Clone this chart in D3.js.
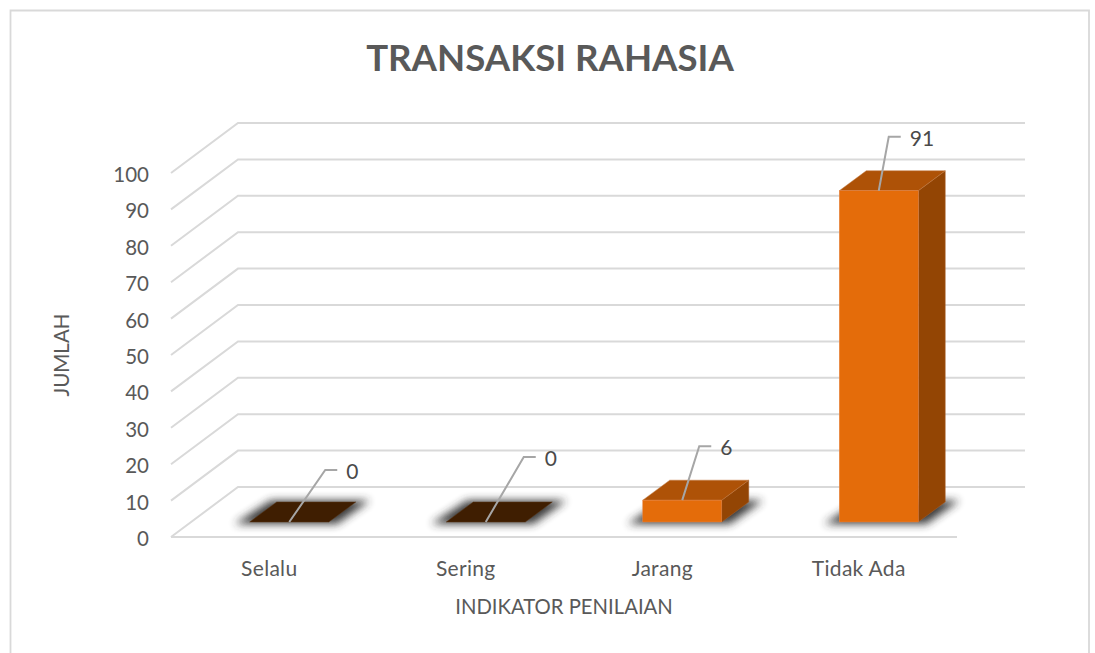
<!DOCTYPE html>
<html><head><meta charset="utf-8">
<script src="https://cdn.jsdelivr.net/npm/d3@7"></script>
<style>html,body{margin:0;padding:0;background:#fff}svg{display:block}text{font-family:Lato,"Open Sans",sans-serif}</style>
</head><body><svg id="c" width="1095" height="653"></svg>
<script>
const categories = ["Selalu","Sering","Jarang","Tidak Ada"];
const values = [0,0,6,91];
const yTicks = [0,10,20,30,40,50,60,70,80,90,100];
const titleText = "TRANSAKSI RAHASIA";
const xTitle = "INDIKATOR PENILAIAN";
const yTitle = "JUMLAH";

const leaderDX = [36,38,17,10], leaderDY = [-52,-65,-54,-54];
const W=1095,H=653;
const floorDX=67, floorDY=50, depthDX=27, depthDY=20, insetDX=20, insetDY=15;
const svg=d3.select("#c");
const defs=svg.append("defs");
defs.append("filter").attr("id","sh").attr("x","-30%").attr("y","-60%").attr("width","160%").attr("height","220%")
  .append("feGaussianBlur").attr("stdDeviation",4);

svg.append("path").attr("d",`M10.5,${H} V10.5 H1089 V${H}`).attr("fill","none").attr("stroke","#d9d9d9").attr("stroke-width",1.8);

const x=d3.scaleBand().domain(categories).range([171,957]).paddingInner(0.598).paddingOuter(0.299);
const y=d3.scaleLinear().domain([0,100]).range([537,173]);

// gridlines
const grid=svg.append("g").attr("fill","none").attr("stroke","#d9d9d9").attr("stroke-width",2);
yTicks.forEach(t=>{
  const yy=y(t);
  grid.append("path").attr("d",`M171,${yy} L${171+floorDX},${yy-floorDY} H1025`);
});
grid.append("path").attr("d",`M171,${y(0)} H957`);

// axis labels
const ay=svg.append("g").attr("transform","translate(157,2)").call(d3.axisLeft(y).tickValues(yTicks).tickSize(0).tickPadding(8));
ay.select(".domain").remove();
ay.selectAll("text").attr("fill","#595959").style("font-size","20.5px").style("font-family","Lato");
const ax=svg.append("g").attr("transform",`translate(0,${y(0)})`).call(d3.axisBottom(x).tickSize(0).tickPadding(24));
ax.select(".domain").remove();
ax.selectAll("text").attr("fill","#595959").style("font-size","21px").style("font-family","Lato").attr("letter-spacing","0.3");

const baseY=y(0)-insetDY;
const bars=svg.append("g");
categories.forEach((c,i)=>{
  const x0=x(c)+insetDX,x1=x0+x.bandwidth();
  const h=y(0)-y(values[i]);
  const top=baseY-h;
  // shadow
  bars.append("polygon").attr("filter","url(#sh)").attr("fill","#333").attr("opacity",.95)
    .attr("points",[[x0-15,baseY+2],[x1+8,baseY+2],[x1+depthDX+14,baseY-depthDY-1.5],[x0+depthDX-6,baseY-depthDY-1.5]].map(p=>p.join(",")).join(" "));
  if(values[i]===0){
    bars.append("polygon").attr("fill","#3f1e01").attr("stroke","#5a3414").attr("stroke-width",.5)
      .attr("points",[[x0,baseY],[x1,baseY],[x1+depthDX,baseY-depthDY],[x0+depthDX,baseY-depthDY]].map(p=>p.join(",")).join(" "));
  } else {
    const stroke="#e8874a";
    bars.append("polygon").attr("fill","#934504").attr("stroke","#a8602c").attr("stroke-width",.5)
      .attr("points",[[x1,baseY],[x1+depthDX,baseY-depthDY],[x1+depthDX,top-depthDY],[x1,top]].map(p=>p.join(",")).join(" "));
    bars.append("polygon").attr("fill","#ae5207").attr("stroke","#c07a44").attr("stroke-width",.5)
      .attr("points",[[x0,top],[x1,top],[x1+depthDX,top-depthDY],[x0+depthDX,top-depthDY]].map(p=>p.join(",")).join(" "));
    bars.append("rect").attr("x",x0).attr("y",top).attr("width",x.bandwidth()).attr("height",h).attr("fill","#e46c0a").attr("stroke",stroke).attr("stroke-width",.5);
  }
  // leader & label
  const cx=(x0+x1)/2, lx=cx+leaderDX[i], ly=top+leaderDY[i];
  svg.append("path").attr("fill","none").attr("stroke","#a6a6a6").attr("stroke-width",2)
    .attr("d",`M${cx},${top} L${lx},${ly} H${lx+12}`);
  svg.append("text").attr("x",lx+21).attr("y",ly+9).attr("fill","#4a4a4a").style("font-size","21px").text(values[i]);
});

svg.append("text").attr("x",550).attr("y",71).attr("text-anchor","middle").attr("fill","#595959")
  .style("font-size","36.6px").style("font-weight",700).text(titleText);
svg.append("text").attr("x",564).attr("y",614).attr("text-anchor","middle").attr("fill","#595959").style("font-size","20.3px").text(xTitle);
svg.append("text").attr("transform","translate(69,355) rotate(-90)").attr("text-anchor","middle").attr("fill","#595959").style("font-size","20.5px").text(yTitle);
</script></body></html>
